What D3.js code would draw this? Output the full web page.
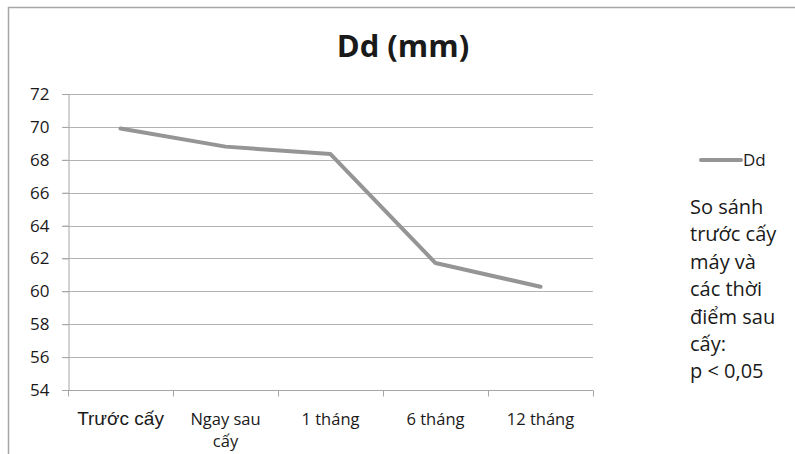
<!DOCTYPE html>
<html>

<head>
	<meta charset="utf-8">
	<title>Dd (mm)</title>
	<script src="https://d3js.org/d3.v7.min.js"></script>
	<style>
		body {
			margin: 0;
			background: #fff;
		}

		text {
			font-family: "Open Sans", Lato, sans-serif;
			fill: #1a1a1a;
		}
	</style>
</head>

<body>
	<div id="chart"></div>
	<script>
		// data
		let categories = ["Trước cấy", "Ngay sau\ncấy", "1 tháng", "6 tháng", "12 tháng"];
		let ddValues = [69.9, 68.8, 68.35, 61.72, 60.28];
		let yTicks = [54, 56, 58, 60, 62, 64, 66, 68, 70, 72];
		let noteLines = ["So sánh", "trước cấy", "máy và", "các thời", "điểm sau", "cấy:", "p < 0,05"];

		let W = 795,
			H = 454;
		let plot = {
			left: 68,
			right: 593,
			top: 94,
			bottom: 390
		};

		let svg = d3.select("#chart").append("svg")
			.attr("width", W)
			.attr("height", H);

		// chart frame (cut off at right and bottom)
		svg.append("path")
			.attr("d", "M8.5," + H + "V7.5H" + W)
			.attr("fill", "none")
			.attr("stroke", "#a6a6a6")
			.attr("stroke-width", 1.5);

		let x = d3.scaleBand()
			.domain(categories)
			.range([plot.left, plot.right]);

		let y = d3.scaleLinear()
			.domain([54, 72])
			.range([plot.bottom, plot.top]);

		// gridlines
		svg.append("g").selectAll("line")
			.data(yTicks.filter(d => d != 54))
			.enter().append("line")
			.attr("x1", plot.left - 6)
			.attr("x2", plot.right)
			.attr("y1", d => Math.round(y(d)) + 0.5)
			.attr("y2", d => Math.round(y(d)) + 0.5)
			.attr("stroke", "#b3b3b3")
			.attr("stroke-width", 1);

		// y axis
		let yAxis = svg.append("g")
			.attr("transform", "translate(" + (plot.left + 0.5) + ",0)")
			.call(d3.axisLeft(y).tickValues(yTicks).tickSize(6).tickPadding(13));
		yAxis.selectAll("path, line").attr("stroke", "#a6a6a6");
		yAxis.selectAll("text")
			.style("font-size", "17px")
			.attr("fill", "#1a1a1a");

		// x axis
		let xAxis = svg.append("g")
			.attr("transform", "translate(0," + (plot.bottom + 0.5) + ")");
		xAxis.append("line")
			.attr("x1", plot.left - 6)
			.attr("x2", plot.right)
			.attr("stroke", "#a6a6a6");
		xAxis.selectAll(".tk")
			.data(d3.range(categories.length + 1))
			.enter().append("line")
			.attr("class", "tk")
			.attr("x1", i => Math.round(plot.left + i * x.step()) + 0.5)
			.attr("x2", i => Math.round(plot.left + i * x.step()) + 0.5)
			.attr("y1", 0)
			.attr("y2", 6)
			.attr("stroke", "#a6a6a6");

		let xl = xAxis.selectAll(".xl")
			.data(categories)
			.enter().append("text")
			.attr("class", "xl")
			.attr("text-anchor", "middle")
			.style("font-size", (d, i) => i == 0 ? "19px" : "16.5px")
			.style("font-family", (d, i) => i == 0 ? "'Liberation Sans', Arial, sans-serif" : null)
			.attr("transform", d => "translate(" + (x(d) + x.bandwidth() / 2) + ",34)");
		xl.selectAll("tspan")
			.data(d => d.split("\n"))
			.enter().append("tspan")
			.attr("x", 0)
			.attr("dy", (d, i) => i == 0 ? 0 : 22.5)
			.text(d => d);

		// line
		let line = d3.line()
			.x((d, i) => x(categories[i]) + x.bandwidth() / 2)
			.y(d => y(d));

		svg.append("path")
			.datum(ddValues)
			.attr("d", line)
			.attr("fill", "none")
			.attr("stroke", "#959595")
			.attr("stroke-width", 4)
			.attr("stroke-linejoin", "round")
			.attr("stroke-linecap", "round");

		// title
		svg.append("text")
			.attr("x", 403)
			.attr("y", 57)
			.attr("text-anchor", "middle")
			.style("font-size", "31px")
			.style("font-weight", "bold")
			.text("Dd (mm)");

		// legend
		svg.append("line")
			.attr("x1", 701)
			.attr("x2", 741)
			.attr("y1", 160)
			.attr("y2", 160)
			.attr("stroke", "#959595")
			.attr("stroke-width", 4)
			.attr("stroke-linecap", "round");
		svg.append("text")
			.attr("x", 743)
			.attr("y", 166)
			.style("font-size", "17px")
			.text("Dd");

		svg.append("g").selectAll("text")
			.data(noteLines)
			.enter().append("text")
			.attr("x", 690)
			.attr("y", (d, i) => 214 + i * 27.4)
			.style("font-size", "20px")
			.text(d => d);
	</script>
</body>

</html>
